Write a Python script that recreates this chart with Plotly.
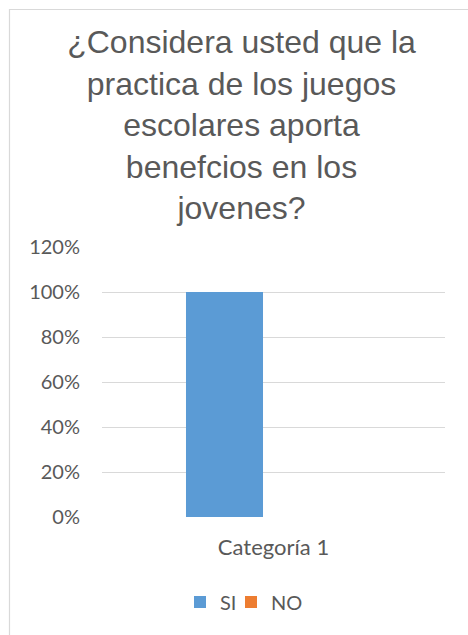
import plotly.graph_objects as go

categories = ["Categoría 1"]
series_names = ["SI", "NO"]
si_values = [1.0]
no_values = [0.0]
colors = ["#5B9BD5", "#ED7D31"]
title_text = "¿Considera usted que la<br>practica de los juegos<br>escolares aporta<br>benefcios en los<br>jovenes?"
y_tickvals = [0, 0.2, 0.4, 0.6, 0.8, 1.0, 1.2]
y_ticktext = ["0%", "20%", "40%", "60%", "80%", "100%", "120%"]

W, H = 468, 635
ml, mr, mt, mb = 102, 23, 247, 118
pw, ph = W - ml - mr, H - mt - mb

fig = go.Figure()
fig.add_trace(go.Bar(x=categories, y=si_values, name=series_names[0], marker_color=colors[0],
                     marker_line_width=0, legend="legend"))
fig.add_trace(go.Bar(x=categories, y=no_values, name=series_names[1], marker_color=colors[1],
                     marker_line_width=0, legend="legend2"))

def px_x(p):
    return (p - ml) / pw

def px_y(p):
    return (H - mb - p) / ph

fig.add_shape(type="rect", xref="paper", yref="paper",
              x0=px_x(9.5), x1=px_x(W + 20), y0=px_y(9.5), y1=px_y(H + 20),
              line=dict(color="#D9D9D9", width=1.2), fillcolor="rgba(0,0,0,0)")

legend_font = dict(family="Lato", size=20, color="#595959")
fig.update_layout(
    width=W, height=H,
    margin=dict(l=ml, r=mr, t=mt, b=mb, autoexpand=False),
    paper_bgcolor="white", plot_bgcolor="white",
    barmode="group", bargap=0.4286, bargroupgap=0.214,
    title=dict(text=title_text, x=241.5 / W, xanchor="center", y=1 - 53 / H, yanchor="top", yref="container",
               font=dict(family="Liberation Sans, Arial", size=32, color="#595959")),
    font=dict(family="Lato", color="#595959"),
    showlegend=True,
    legend=dict(orientation="h", x=px_x(180), xanchor="left", y=px_y(602), yanchor="middle",
                font=legend_font, itemclick=False, itemwidth=30, bgcolor="rgba(0,0,0,0)"),
    legend2=dict(orientation="h", x=px_x(231), xanchor="left", y=px_y(602), yanchor="middle",
                 font=legend_font, itemclick=False, itemwidth=30, bgcolor="rgba(0,0,0,0)"),
    xaxis=dict(showline=False, showgrid=False, ticks="", ticklabelstandoff=15,
               tickfont=dict(family="Lato", size=22, color="#595959")),
    yaxis=dict(range=[0, 1.2], tickvals=y_tickvals, ticktext=y_ticktext, showgrid=True,
               gridcolor="#D9D9D9", gridwidth=1.3, zeroline=False, showline=False, ticks="",
               ticklabelstandoff=21,
               tickfont=dict(family="Lato", size=20, color="#595959")),
)

fig.write_html("out.html", config={"displayModeBar": False},
               post_script="document.body.style.margin='0';document.body.style.overflow='hidden';")
